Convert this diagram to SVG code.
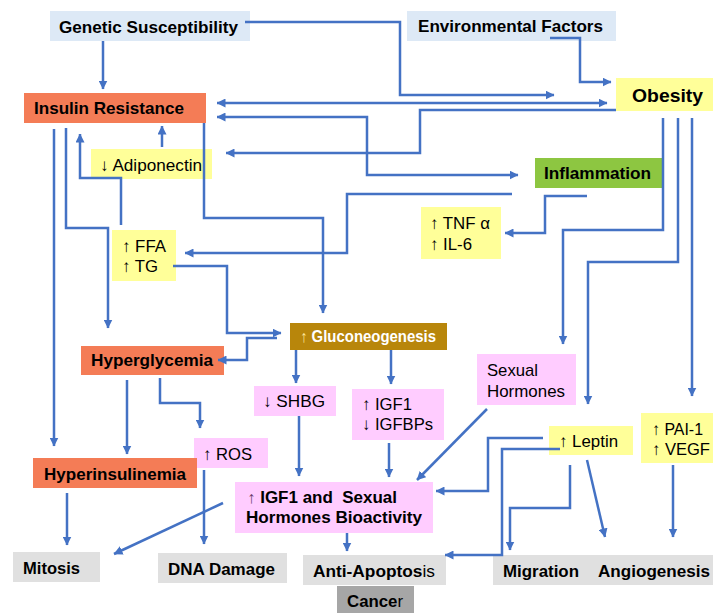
<svg xmlns="http://www.w3.org/2000/svg" width="713" height="613" viewBox="0 0 713 613">
<defs>
<marker id="ah" markerUnits="userSpaceOnUse" markerWidth="9" markerHeight="9" viewBox="0 0 9 9" refX="8.5" refY="4.5" orient="auto-start-reverse">
<path d="M0,0 L9,4.5 L0,9 z" fill="#4472c4"/>
</marker>
</defs>
<style>
text{font-family:"Liberation Sans",Arial,sans-serif;fill:#000}
.b{font-weight:bold;font-size:16.5px}
.r{font-size:17px}
.n{font-weight:normal}
.blue{fill:#dde9f6}
.org{fill:#f47c56}
.yel{fill:#ffff99}
.grn{fill:#8dc641}
.gold{fill:#b8860b}
.pnk{fill:#ffccff}
.gry{fill:#e0e0e0}
.dgry{fill:#a6a6a6}
#connectors path{fill:none;stroke:#4472c4;stroke-width:2.5;marker-end:url(#ah)}
#connectors path.both{marker-start:url(#ah)}
</style>
<rect width="713" height="613" fill="#fff"/>

<g id="genetic"><rect class="blue" x="50" y="11" width="200" height="30"/><text class="b" x="59" y="33" textLength="179" lengthAdjust="spacingAndGlyphs">Genetic Susceptibility</text></g>
<g id="environmental"><rect class="blue" x="407" y="11" width="209" height="30"/><text class="b" x="418" y="32" textLength="185" lengthAdjust="spacingAndGlyphs">Environmental Factors</text></g>
<g id="obesity"><rect class="yel" x="616" y="78" width="97" height="33"/><text class="b" x="632" y="102" style="font-size:19px" textLength="71" lengthAdjust="spacingAndGlyphs">Obesity</text></g>
<g id="insulin-resistance"><rect class="org" x="24" y="93" width="182" height="30"/><text class="b" x="34" y="114" textLength="150" lengthAdjust="spacingAndGlyphs">Insulin Resistance</text></g>
<g id="adiponectin"><rect class="yel" x="91" y="149" width="121" height="30"/><text class="r" x="100" y="171" textLength="102" lengthAdjust="spacingAndGlyphs">↓ Adiponectin</text></g>
<g id="inflammation"><rect class="grn" x="535" y="158" width="127" height="30"/><text class="b" x="544" y="179" textLength="107" lengthAdjust="spacingAndGlyphs">Inflammation</text></g>
<g id="tnf-il6"><rect class="yel" x="421" y="207" width="80" height="52"/><text class="r" x="430" y="229" textLength="60" lengthAdjust="spacingAndGlyphs">↑ TNF α</text><text class="r" x="430" y="250" textLength="42" lengthAdjust="spacingAndGlyphs">↑ IL-6</text></g>
<g id="ffa-tg"><rect class="yel" x="112" y="230" width="64" height="51"/><text class="r" x="122" y="252" textLength="44" lengthAdjust="spacingAndGlyphs">↑ FFA</text><text class="r" x="122" y="272" textLength="36" lengthAdjust="spacingAndGlyphs">↑ TG</text></g>
<g id="gluconeogenesis"><rect class="gold" x="290" y="323" width="157" height="27"/><text class="b" x="300" y="342" style="fill:#fff" textLength="136" lengthAdjust="spacingAndGlyphs"><tspan class="n" style="fill:#ffe699">↑</tspan> Gluconeogenesis</text></g>
<g id="hyperglycemia"><rect class="org" x="81" y="346" width="143" height="29"/><text class="b" x="91" y="366" textLength="122" lengthAdjust="spacingAndGlyphs">Hyperglycemia</text></g>
<g id="sexual-hormones"><rect class="pnk" x="477" y="354" width="99" height="51"/><text class="r" x="487" y="376" textLength="51" lengthAdjust="spacingAndGlyphs">Sexual</text><text class="r" x="487" y="397" textLength="78" lengthAdjust="spacingAndGlyphs">Hormones</text></g>
<g id="shbg"><rect class="pnk" x="254" y="386" width="82" height="30"/><text class="r" x="263" y="407" textLength="62" lengthAdjust="spacingAndGlyphs">↓ SHBG</text></g>
<g id="igf1-igfbps"><rect class="pnk" x="352" y="389" width="92" height="51"/><text class="r" x="362" y="410" textLength="50" lengthAdjust="spacingAndGlyphs">↑ IGF1</text><text class="r" x="362" y="430" textLength="71" lengthAdjust="spacingAndGlyphs">↓ IGFBPs</text></g>
<g id="leptin"><rect class="yel" x="549" y="426" width="84" height="29"/><text class="r" x="559" y="447" textLength="59" lengthAdjust="spacingAndGlyphs">↑ Leptin</text></g>
<g id="pai1-vegf"><rect class="yel" x="641" y="413" width="72" height="50"/><text class="r" x="652" y="435" textLength="51" lengthAdjust="spacingAndGlyphs">↑ PAI-1</text><text class="r" x="652" y="455" textLength="58" lengthAdjust="spacingAndGlyphs">↑ VEGF</text></g>
<g id="ros"><rect class="pnk" x="194" y="438" width="74" height="30"/><text class="r" x="203" y="460" textLength="49" lengthAdjust="spacingAndGlyphs">↑ ROS</text></g>
<g id="hyperinsulinemia"><rect class="org" x="33" y="458" width="164" height="30"/><text class="b" x="44" y="480" textLength="142" lengthAdjust="spacingAndGlyphs">Hyperinsulinemia</text></g>
<g id="bioactivity"><rect class="pnk" x="235" y="482" width="198" height="51"/><text class="b" x="247" y="503" xml:space="preserve" textLength="150" lengthAdjust="spacingAndGlyphs"><tspan class="n" style="fill:#6a3d6a">↑</tspan> IGF1 and  Sexual</text><text class="b" x="246" y="523" textLength="176" lengthAdjust="spacingAndGlyphs">Hormones Bioactivity</text></g>
<g id="mitosis"><rect class="gry" x="13" y="552" width="87" height="30"/><text class="b" x="23" y="574" textLength="57" lengthAdjust="spacingAndGlyphs">Mitosis</text></g>
<g id="dna-damage"><rect class="gry" x="158" y="553" width="129" height="30"/><text class="b" x="168" y="575" textLength="107" lengthAdjust="spacingAndGlyphs">DNA Damage</text></g>
<g id="anti-apoptosis"><rect class="gry" x="303" y="555" width="143" height="30"/><text class="b" x="313" y="577" textLength="122" lengthAdjust="spacingAndGlyphs">Anti-Apoptos<tspan class="n">is</tspan></text></g>
<g id="migration"><rect class="gry" x="493" y="555" width="96" height="30"/><text class="b" x="503" y="577" textLength="76" lengthAdjust="spacingAndGlyphs">Migration</text></g>
<g id="angiogenesis"><rect class="gry" x="588" y="555" width="125" height="30"/><text class="b" x="598" y="577" textLength="112" lengthAdjust="spacingAndGlyphs">Angiogenesis</text></g>
<g id="cancer"><rect class="dgry" x="337" y="586" width="77" height="27"/><text class="b" x="347" y="607" textLength="56" lengthAdjust="spacingAndGlyphs">Cance<tspan class="n">r</tspan></text></g>

<g id="connectors">
<path d="M103,41 V89"/>
<path d="M245,22 H400 V95 H554"/>
<path d="M550,38 H580 V82 H611"/>
<path class="both" d="M217,103 H607"/>
<path class="both" d="M217,117 H367 V175 H518"/>
<path d="M616,110 H420 V153 H226"/>
<path d="M162,147 V126"/>
<path d="M121,225 V178 H80 V134"/>
<path d="M54,129 V446"/>
<path d="M66,128 V228 H108 V328"/>
<path d="M204,123 V218 H323 V313"/>
<path d="M512,194 H347 V253 H185"/>
<path d="M587,196 H545 V233 H505"/>
<path d="M663,118 V230 H563 V344"/>
<path d="M678,118 V262 H588 V404"/>
<path d="M692,118 V396"/>
<path d="M173,266 H227 V333 H281"/>
<path d="M277,338 H247 V360 H218"/>
<path d="M296,350 V383"/>
<path d="M391,350 V384"/>
<path d="M127,380 V454"/>
<path d="M160,378 V403 H200 V428"/>
<path d="M204,470 V544"/>
<path d="M67,493 V545"/>
<path d="M223,503 L114,554"/>
<path d="M299,416 V476"/>
<path d="M389,443 V477"/>
<path d="M487,409 L417,480"/>
<path d="M543,438 H488 V491 H436"/>
<path d="M560,449 H502 V555 H445"/>
<path d="M570,465 V508 H510 V550"/>
<path d="M587,460 L605,537"/>
<path d="M673,465 V537"/>
<path d="M347,533 V551"/>
</g>
</svg>
